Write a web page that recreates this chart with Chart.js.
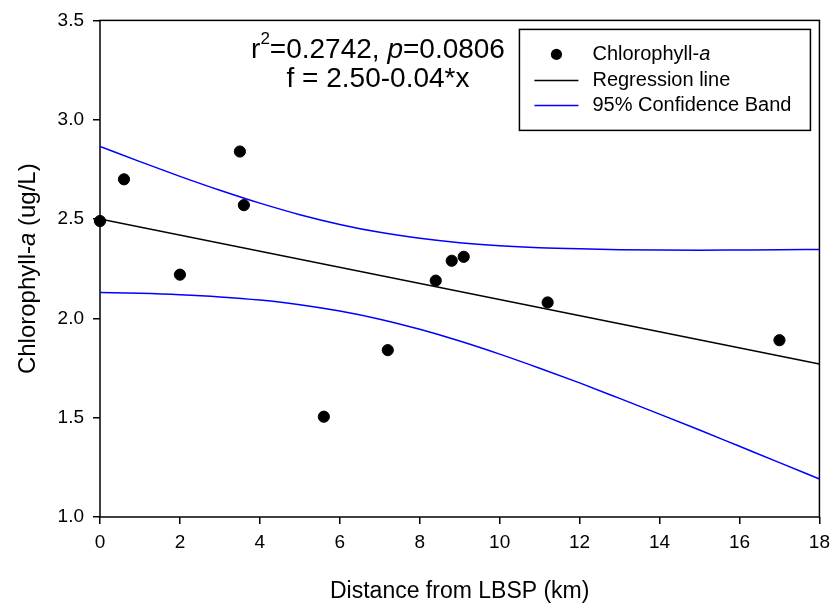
<!DOCTYPE html>
<html>
<head>
<meta charset="utf-8">
<script src="https://cdn.jsdelivr.net/npm/chart.js@4.4.1/dist/chart.umd.min.js"></script>
<style>
  html, body { margin: 0; padding: 0; background: #fff; }
</style>
</head>
<body>
<canvas id="chart" width="837" height="603"></canvas>
<script>
// ----------- data -----------
const distKm = [0, 0.6, 2.0, 3.5, 3.6, 5.6, 7.2, 8.4, 8.8, 9.1, 11.2, 17.0];
const chlA   = [2.49, 2.70, 2.22, 2.84, 2.57, 1.505, 1.84, 2.19, 2.29, 2.31, 2.08, 1.89];

const regX = [0, 18];
const regY = [2.50, 1.77];

const bandX     = [0, 1, 2, 3, 4, 5, 6, 7, 8, 9, 10, 11, 12, 13, 14, 15, 16, 17, 18];
const bandUpper = [2.866, 2.789, 2.715, 2.645, 2.580, 2.522, 2.473, 2.433, 2.403, 2.381, 2.366, 2.356, 2.350, 2.346, 2.344, 2.343, 2.344, 2.345, 2.347];
const bandLower = [2.130, 2.126, 2.119, 2.108, 2.092, 2.069, 2.037, 1.996, 1.945, 1.886, 1.820, 1.749, 1.675, 1.597, 1.518, 1.438, 1.356, 1.274, 1.191];

const xTicks = [0, 2, 4, 6, 8, 10, 12, 14, 16, 18];
const yTicks = [1.0, 1.5, 2.0, 2.5, 3.0, 3.5];

const FONT = '"Liberation Sans", Arial, Helvetica, sans-serif';

// helpers
const pts = (xs, ys) => xs.map((x, i) => ({ x, y: ys[i] }));

function runFont(r, size) {
    const s = r.sup ? Math.round(size * 0.62) : size;
    return (r.italic ? 'italic ' : '') + s + 'px ' + FONT;
}
// draws a line of mixed text (italic / superscript) at x,y
function drawRuns(ctx, runs, x, y, size, align) {
    let total = 0;
    runs.forEach(r => { ctx.font = runFont(r, size); r.w = ctx.measureText(r.t).width; total += r.w; });
    let cx = align === 'center' ? x - total / 2 : x;
    ctx.textAlign = 'left';
    ctx.textBaseline = 'middle';
    runs.forEach(r => {
        ctx.font = runFont(r, size);
        ctx.fillText(r.t, cx, r.sup ? y - size * 0.38 : y);
        cx += r.w;
    });
}

// ----------- extra drawing: frame, y title, legend, annotation -----------
const decor = {
    id: 'decor',
    beforeDatasetsDraw(chart) {
        const { ctx, chartArea: a } = chart;
        ctx.save();
        ctx.strokeStyle = '#000';
        ctx.lineWidth = 1.5;
        ctx.strokeRect(a.left, a.top, a.right - a.left, a.bottom - a.top);
        ctx.restore();
    },
    afterDraw(chart) {
        const { ctx, chartArea: a } = chart;
        ctx.save();
        ctx.fillStyle = '#000';

        // y axis title
        ctx.save();
        ctx.translate(28, (a.top + a.bottom) / 2);
        ctx.rotate(-Math.PI / 2);
        drawRuns(ctx, [{ t: 'Chlorophyll-' }, { t: 'a', italic: true }, { t: ' (ug/L)' }], 0, 0, 24, 'center');
        ctx.restore();

        // annotation
        const ax = a.left + 278;
        drawRuns(ctx, [{ t: 'r' }, { t: '2', sup: true }, { t: '=0.2742, ' }, { t: 'p', italic: true }, { t: '=0.0806' }],
            ax, a.top + 30, 28, 'center');
        drawRuns(ctx, [{ t: 'f = 2.50-0.04*x' }], ax, a.top + 59, 28, 'center');

        // legend
        const bw = 291, bh = 101;
        const bx = a.right - 9 - bw, by = a.top + 9;
        ctx.fillStyle = '#fff';
        ctx.fillRect(bx, by, bw, bh);
        ctx.strokeStyle = '#000';
        ctx.lineWidth = 1.5;
        ctx.strokeRect(bx, by, bw, bh);

        const rows = [by + 25, by + 51, by + 76];
        ctx.fillStyle = '#000';
        ctx.beginPath();
        ctx.arc(bx + 37, rows[0], 5.6, 0, Math.PI * 2);
        ctx.fill();

        ctx.lineWidth = 1.5;
        ctx.strokeStyle = '#000';
        ctx.beginPath(); ctx.moveTo(bx + 15, rows[1]); ctx.lineTo(bx + 59, rows[1]); ctx.stroke();
        ctx.strokeStyle = '#0000ff';
        ctx.beginPath(); ctx.moveTo(bx + 15, rows[2]); ctx.lineTo(bx + 59, rows[2]); ctx.stroke();

        const tx = bx + 73;
        drawRuns(ctx, [{ t: 'Chlorophyll-' }, { t: 'a', italic: true }], tx, rows[0], 20, 'left');
        drawRuns(ctx, [{ t: 'Regression line' }], tx, rows[1], 20, 'left');
        drawRuns(ctx, [{ t: '95% Confidence Band' }], tx, rows[2], 20, 'left');
        ctx.restore();
    }
};

const tickGrid = { display: true, drawOnChartArea: false, drawTicks: true, tickLength: 7, color: '#000', lineWidth: 1.5 };

new Chart(document.getElementById('chart'), {
    type: 'scatter',
    data: {
        datasets: [
            {
                label: 'Chlorophyll-a',
                data: pts(distKm, chlA),
                backgroundColor: '#000',
                borderColor: '#000',
                pointRadius: 5.6,
                pointHoverRadius: 5.6,
                clip: false,
                order: 0
            },
            {
                label: 'Regression line',
                type: 'line',
                data: pts(regX, regY),
                borderColor: '#000',
                borderWidth: 1.5,
                pointRadius: 0,
                fill: false,
                order: 1
            },
            {
                label: '95% Confidence Band',
                type: 'line',
                data: pts(bandX, bandUpper),
                borderColor: '#0000ff',
                borderWidth: 1.5,
                pointRadius: 0,
                cubicInterpolationMode: 'monotone',
                fill: false,
                order: 1
            },
            {
                label: '95% Confidence Band (lower)',
                type: 'line',
                data: pts(bandX, bandLower),
                borderColor: '#0000ff',
                borderWidth: 1.5,
                pointRadius: 0,
                cubicInterpolationMode: 'monotone',
                fill: false,
                order: 1
            }
        ]
    },
    options: {
        responsive: false,
        animation: false,
        layout: { padding: { top: 15, right: 14, left: 0, bottom: 0 } },
        plugins: {
            legend: { display: false },
            tooltip: { enabled: false }
        },
        scales: {
            x: {
                type: 'linear',
                min: 0, max: 18,
                afterBuildTicks: s => { s.ticks = xTicks.map(v => ({ value: v })); },
                afterFit: s => { s.height = 86; },
                grid: tickGrid,
                border: { display: false },
                ticks: { color: '#000', font: { family: FONT, size: 19 }, padding: 7, maxRotation: 0 },
                title: {
                    display: true,
                    text: 'Distance from LBSP (km)',
                    color: '#000',
                    font: { family: FONT, size: 23, lineHeight: 1 },
                    padding: { top: 0, bottom: 0 }
                }
            },
            y: {
                type: 'linear',
                min: 1.0, max: 3.5,
                afterBuildTicks: s => { s.ticks = yTicks.map(v => ({ value: v })); },
                afterFit: s => { s.width = 100; },
                grid: tickGrid,
                border: { display: false },
                ticks: { color: '#000', font: { family: FONT, size: 19 }, padding: 9, callback: v => v.toFixed(1) }
            }
        }
    },
    plugins: [decor]
});
</script>
</body>
</html>
